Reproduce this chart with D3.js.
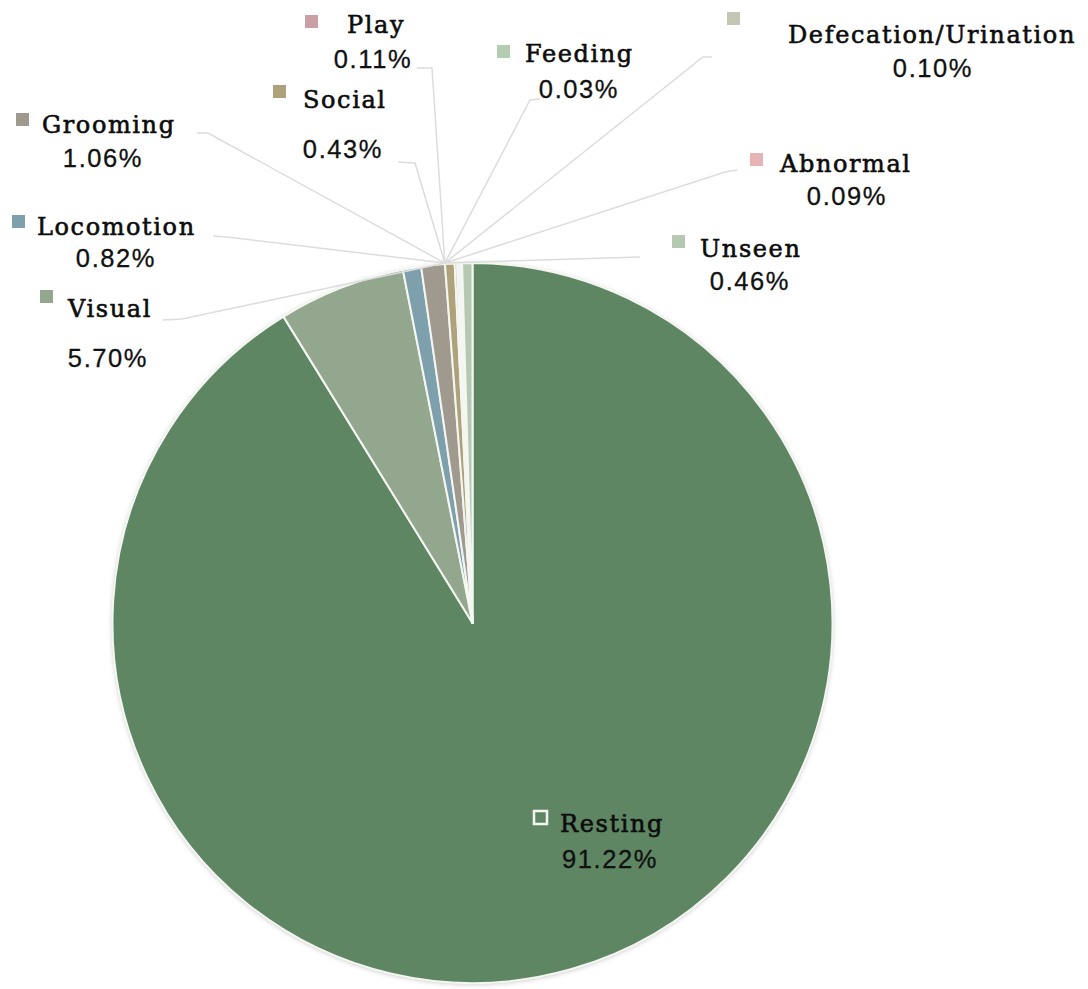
<!DOCTYPE html>
<html>
<head>
<meta charset="utf-8">
<script src="https://cdn.jsdelivr.net/npm/d3@7"></script>
<style>
  html, body { margin: 0; padding: 0; background: white; }
  svg { display: block; }
</style>
</head>
<body>
<div id="chart"></div>
<script>
  var
    // behaviour categories, clockwise from 12 o'clock
    categories = ["Resting", "Visual", "Locomotion", "Grooming", "Social",
                  "Play", "Feeding", "Defecation/Urination", "Abnormal", "Unseen"],

    // share of observed time, in percent
    values = [91.22, 5.70, 0.82, 1.06, 0.43, 0.11, 0.03, 0.10, 0.09, 0.46],

    percentLabels = ["91.22%", "5.70%", "0.82%", "1.06%", "0.43%",
                     "0.11%", "0.03%", "0.10%", "0.09%", "0.46%"],

    sliceColors = ["#5e8663", "#93a78e", "#7e9fac", "#9f998e", "#aea27b",
                   "#c9a0a4", "#b3cdb3", "#c4c6b4", "#e6b4b4", "#b4c8b2"];

  var
    WIDTH = 1088,
    HEIGHT = 989,

    // pie position and size, in pixels
    CENTER_X = 472.5,
    CENTER_Y = 623,
    RADIUS = 360,

    LEADER_COLOR = "#dcdcdc",
    NAME_FONT = "'DejaVu Serif', serif",
    NAME_SIZE = 24,
    PCT_FONT = "'Liberation Sans', Arial, sans-serif",
    PCT_SIZE = 25.5,
    SWATCH = 13;

  // hand placed labels, like in the original spreadsheet chart:
  // swatch corner, name start and baseline, percent centre and baseline,
  // and the two label side points of the leader line
  var labelLayout = {
    "Resting":              {sx: 534, sy: 811, nx: 560, ny: 832, px: 610, py: 868, hollow: true},
    "Visual":               {sx: 40,  sy: 290, nx: 68,  ny: 317, px: 108, py: 367, lead: [[163, 320], [182, 319]]},
    "Locomotion":           {sx: 12,  sy: 215, nx: 37,  ny: 235, px: 116, py: 267, lead: [[213, 236], [227, 237]]},
    "Grooming":             {sx: 16,  sy: 113, nx: 42,  ny: 133, px: 103, py: 167, lead: [[197, 133], [208, 133]]},
    "Social":               {sx: 273, sy: 85,  nx: 303, ny: 108, px: 343, py: 158, lead: [[398, 162], [415, 163]]},
    "Play":                 {sx: 305, sy: 15,  nx: 347, ny: 33,  px: 373, py: 68,  lead: [[417, 68], [432, 68]]},
    "Feeding":              {sx: 497, sy: 45,  nx: 525, ny: 62,  px: 579, py: 98,  lead: [[540, 99], [530, 100]]},
    "Defecation/Urination": {sx: 727, sy: 12,  nx: 788, ny: 43,  px: 933, py: 77,  lead: [[712, 57], [703, 57]]},
    "Abnormal":             {sx: 750, sy: 153, nx: 780, ny: 172, px: 847, py: 205, lead: [[737, 170], [725, 172]]},
    "Unseen":               {sx: 672, sy: 235, nx: 700, ny: 257, px: 750, py: 290, lead: [[640, 257], [640, 257]]}
  };

  var svg = d3.select("#chart").append("svg")
    .attr("width", WIDTH)
    .attr("height", HEIGHT);

  svg.append("rect")
    .attr("width", WIDTH)
    .attr("height", HEIGHT)
    .attr("fill", "white");

  var defs = svg.append("defs");
  defs.append("filter")
    .attr("id", "pie-shadow")
    .attr("x", "-5%").attr("y", "-5%")
    .attr("width", "110%").attr("height", "110%")
    .append("feDropShadow")
      .attr("dx", 0).attr("dy", 1)
      .attr("stdDeviation", 2.5)
      .attr("flood-color", "#000")
      .attr("flood-opacity", 0.25);

  var color = d3.scaleOrdinal().domain(categories).range(sliceColors);

  var pie = d3.pie().sort(null).value(function(d){ return d.value; });
  var arc = d3.arc().innerRadius(0).outerRadius(RADIUS);

  var data = categories.map(function(c, i){
    return {name: c, value: values[i], label: percentLabels[i]};
  });
  var arcs = pie(data);

  // the leader lines all meet near the top of the pie, at the start of the small slices
  var social = arcs[categories.indexOf("Social")];
  var hubPoint = d3.pointRadial(social.startAngle, RADIUS + 1);
  var hub = [CENTER_X + hubPoint[0], CENTER_Y + hubPoint[1]];

  var pieGroup = svg.append("g")
    .attr("transform", "translate(" + CENTER_X + "," + CENTER_Y + ")");

  pieGroup.append("circle")
    .attr("r", RADIUS)
    .attr("fill", "#eeeeee")
    .attr("filter", "url(#pie-shadow)");

  pieGroup.selectAll("path.slice")
    .data(arcs)
    .enter().append("path")
      .attr("class", "slice")
      .attr("d", arc)
      .attr("fill", function(d){ return color(d.data.name); })
      .attr("stroke", "#f4f6f2")
      .attr("stroke-width", 2)
      .attr("stroke-linejoin", "round");

  // leader lines
  var line = d3.line();
  svg.append("g")
    .selectAll("path")
    .data(arcs.filter(function(d){ return labelLayout[d.data.name].lead; }))
    .enter().append("path")
      .attr("d", function(d){
        var lead = labelLayout[d.data.name].lead;
        return line([lead[0], lead[1], hub]);
      })
      .attr("fill", "none")
      .attr("stroke", LEADER_COLOR)
      .attr("stroke-width", 1.5);

  // labels
  var labels = svg.append("g")
    .selectAll("g")
    .data(arcs)
    .enter().append("g");

  labels.append("rect")
    .attr("x", function(d){ return labelLayout[d.data.name].sx; })
    .attr("y", function(d){ return labelLayout[d.data.name].sy; })
    .attr("width", SWATCH)
    .attr("height", SWATCH)
    .attr("fill", function(d){ return color(d.data.name); })
    .attr("stroke", function(d){ return labelLayout[d.data.name].hollow ? "#f4f6f2" : "none"; })
    .attr("stroke-width", 2.5);

  labels.append("text")
    .attr("x", function(d){ return labelLayout[d.data.name].nx; })
    .attr("y", function(d){ return labelLayout[d.data.name].ny; })
    .attr("font-family", NAME_FONT)
    .attr("font-size", NAME_SIZE)
    .attr("letter-spacing", 1.6)
    .attr("fill", "#0d0d0d")
    .attr("stroke", "#0d0d0d")
    .attr("stroke-width", 0.6)
    .text(function(d){ return d.data.name; });

  labels.append("text")
    .attr("x", function(d){ return labelLayout[d.data.name].px; })
    .attr("y", function(d){ return labelLayout[d.data.name].py; })
    .attr("text-anchor", "middle")
    .attr("font-family", PCT_FONT)
    .attr("font-size", PCT_SIZE)
    .attr("letter-spacing", 1.6)
    .attr("fill", "#111")
    .attr("stroke", "#111")
    .attr("stroke-width", 0.3)
    .text(function(d){ return d.data.label; });
</script>
</body>
</html>
